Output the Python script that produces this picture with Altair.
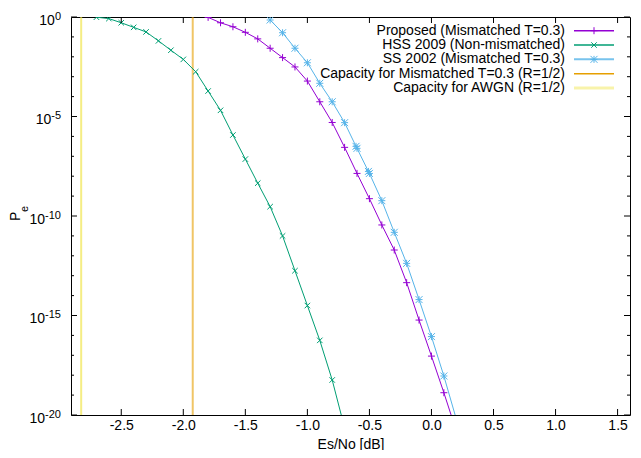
import altair as alt
import pandas as pd

# ---------------- data ----------------
es_proposed = [-1.8, -1.7, -1.6, -1.5, -1.4, -1.3, -1.2, -1.1, -1.0, -0.9, -0.8,
               -0.7, -0.6, -0.5, -0.4, -0.3, -0.2, -0.1, 0.0, 0.1, 0.2]
log10pe_proposed = [-0.02, -0.29, -0.49, -0.77, -1.10, -1.57, -2.04, -2.51, -3.22, -4.26, -5.30,
                    -6.55, -7.86, -9.13, -10.45, -11.71, -13.35, -15.23, -17.04, -18.88, -20.80]

es_hss = [-2.7, -2.6, -2.5, -2.4, -2.3, -2.2, -2.1, -2.0, -1.9, -1.8, -1.7,
          -1.6, -1.5, -1.4, -1.3, -1.2, -1.1, -1.0, -0.9, -0.8, -0.7]
log10pe_hss = [-0.01, -0.08, -0.29, -0.52, -0.75, -1.20, -1.67, -2.13, -2.75, -3.72, -4.69,
               -5.93, -7.14, -8.35, -9.53, -11.00, -12.75, -14.50, -16.25, -18.24, -20.65]

es_ss = [-1.3, -1.2, -1.1, -1.0, -0.9, -0.8, -0.7, -0.608, -0.6, -0.508, -0.5,
         -0.4, -0.3, -0.2, -0.1, 0.0, 0.1, 0.2]
log10pe_ss = [-0.15, -0.79, -1.57, -2.30, -3.33, -4.26, -5.31, -6.50, -6.60, -7.76, -7.86,
              -9.23, -10.82, -12.38, -14.20, -16.06, -18.04, -20.20]

cap_mismatched = [-1.924]
cap_awgn = [-2.823]

x_ticks = [-2.5, -2.0, -1.5, -1.0, -0.5, 0.0, 0.5, 1.0, 1.5]
y_major_exp = [0, -5, -10, -15, -20]
y_minor_exp = [e for e in range(0, -21, -1) if e % 5 != 0]

legend_labels = ["Proposed (Mismatched T=0.3)", "HSS 2009 (Non-mismatched)",
                 "SS 2002 (Mismatched T=0.3)", "Capacity for Mismatched T=0.3 (R=1/2)",
                 "Capacity for AWGN (R=1/2)"]

# ---------------- styling ----------------
FONT = "Liberation Sans"
W, H = 559, 398
PURPLE, GREEN, BLUE, ORANGE, YELLOW = "#9400d3", "#009e73", "#56b4e9", "#e69f00", "#f0e442"
PLUS = "M-1,0L1,0M0,-1L0,1"
CROSS = "M-1,-1L1,1M-1,1L1,-1"
STAR = PLUS + CROSS

xscale = alt.Scale(domain=[-2.905, 1.6], nice=False, zero=False)
yscale = alt.Scale(type="log", domain=[1e-20, 1], nice=False)
xaxis = alt.Axis(values=x_ticks,
                 labelExpr="replace(format(datum.value, '.1f'), '\u2212', '-')",
                 ticks=False, tickSize=0, domain=False, grid=False,
                 labelFont=FONT, labelFontSize=14, labelColor="black", labelPadding=3,
                 labelFlush=False, labelOverlap=False,
                 title="Es/No [dB]", titleFont=FONT, titleFontSize=14,
                 titleFontWeight="normal", titleColor="black", titlePadding=5)


def X(field="es"):
    return alt.X(f"{field}:Q", scale=xscale, axis=xaxis)


def Y(field="pe"):
    return alt.Y(f"{field}:Q", scale=yscale, axis=None)


def frame(es, lg):
    return pd.DataFrame({"es": es, "pe": [10 ** v for v in lg]})


layers = []

# capacity lines
layers.append(alt.Chart(pd.DataFrame({"es": cap_awgn})).mark_rule(
    color=YELLOW, strokeWidth=2, opacity=0.65).encode(x=X()))
layers.append(alt.Chart(pd.DataFrame({"es": cap_mismatched})).mark_rule(
    color=ORANGE, strokeWidth=2, opacity=0.6).encode(x=X()))

# series
series = [
    (frame(es_proposed, log10pe_proposed), PURPLE, PLUS, 49, 1.0),
    (frame(es_hss, log10pe_hss), GREEN, CROSS, 30, 1.0),
    (frame(es_ss, log10pe_ss), BLUE, STAR, 49, 1.0),
]
for df, col, shp, sz, lw in series:
    layers.append(alt.Chart(df).mark_line(color=col, strokeWidth=lw, clip=True).encode(x=X(), y=Y()))
    layers.append(alt.Chart(df).mark_point(shape=shp, filled=False, color=col, size=sz,
                                           strokeWidth=1, opacity=1, clip=True).encode(x=X(), y=Y()))

# x ticks (inward, bottom and top)
df_xt = pd.DataFrame({"es": x_ticks})
layers.append(alt.Chart(df_xt).mark_rule(color="black", strokeWidth=1).encode(
    x=X(), y=alt.value(H), y2=alt.value(H - 6)))
layers.append(alt.Chart(df_xt).mark_rule(color="black", strokeWidth=1).encode(
    x=X(), y=alt.value(0), y2=alt.value(6)))

# y ticks (inward, left and right)
for exps, ln in [(y_major_exp, 6), (y_minor_exp, 3)]:
    df_yt = pd.DataFrame({"pe": [10.0 ** e for e in exps]})
    layers.append(alt.Chart(df_yt).mark_rule(color="black", strokeWidth=1).encode(
        y=Y(), x=alt.value(0), x2=alt.value(ln)))
    layers.append(alt.Chart(df_yt).mark_rule(color="black", strokeWidth=1).encode(
        y=Y(), x=alt.value(W), x2=alt.value(W - ln)))

# y tick labels 10^n
R = -10
for e in y_major_exp:
    s = str(e)
    w = sum(0.333 * 11 if ch == "-" else 0.556 * 11 for ch in s)
    d = pd.DataFrame({"pe": [10.0 ** e], "base": ["10"], "ex": [s]})
    layers.append(alt.Chart(d).mark_text(align="right", baseline="alphabetic", dy=7.5,
                                         font=FONT, fontSize=14, color="black").encode(
        x=alt.value(R - w), y=Y(), text="base:N"))
    layers.append(alt.Chart(d).mark_text(align="right", baseline="alphabetic", dy=2.5,
                                         font=FONT, fontSize=11, color="black").encode(
        x=alt.value(R), y=Y(), text="ex:N"))

# y title P_e
layers.append(alt.Chart(pd.DataFrame({"t": ["P"]})).mark_text(
    angle=270, align="left", baseline="alphabetic", font=FONT, fontSize=14, color="black").encode(
    x=alt.value(-51), y=alt.value(204), text="t:N"))
layers.append(alt.Chart(pd.DataFrame({"t": ["e"]})).mark_text(
    angle=270, align="left", baseline="alphabetic", font=FONT, fontSize=11, color="black").encode(
    x=alt.value(-43), y=alt.value(195), text="t:N"))

# legend
leg_style = [
    (PURPLE, 1.5, 1.0, PLUS, 49),
    (GREEN, 1.5, 1.0, CROSS, 30),
    (BLUE, 2.0, 0.8, STAR, 49),
    (ORANGE, 1.5, 1.0, None, 0),
    (YELLOW, 3.0, 0.45, None, 0),
]
for i, (lab, (col, lw, op, shp, sz)) in enumerate(zip(legend_labels, leg_style)):
    yy = 13.7 + 14.33 * i
    d = pd.DataFrame({"label": [lab]})
    layers.append(alt.Chart(d).mark_text(align="right", baseline="middle", font=FONT,
                                         fontSize=14, color="black").encode(
        x=alt.value(494), y=alt.value(yy), text="label:N"))
    layers.append(alt.Chart(d).mark_rule(color=col, strokeWidth=lw, opacity=op).encode(
        x=alt.value(503), x2=alt.value(543), y=alt.value(yy)))
    if shp:
        layers.append(alt.Chart(d).mark_point(shape=shp, filled=False, color=col, size=sz,
                                              strokeWidth=1, opacity=1).encode(
            x=alt.value(523), y=alt.value(yy)))

chart = alt.layer(*layers).properties(
    width=W, height=H,
    autosize=alt.AutoSizeParams(type="none"),
    padding={"left": 63, "top": 9, "right": 3, "bottom": 35},
).configure_view(stroke="black", strokeWidth=1)

chart.save("out.html", embed_options={"renderer": "svg", "actions": False})
